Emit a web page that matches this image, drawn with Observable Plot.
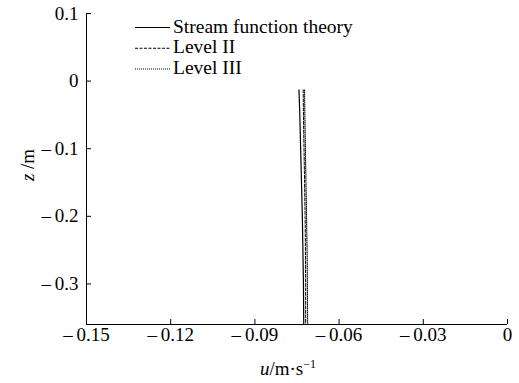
<!DOCTYPE html>
<html>
<head>
<meta charset="utf-8">
<script src="https://cdn.jsdelivr.net/npm/d3@7"></script>
<script src="https://cdn.jsdelivr.net/npm/@observablehq/plot@0.6"></script>
<style>
  html, body { margin: 0; padding: 0; background: #fff; }
  #chart { position: relative; width: 519px; height: 383px; }
  #chart svg, #chart svg text { font-family: "Liberation Serif", "Times New Roman", serif !important; }
</style>
</head>
<body>
<div id="chart"></div>
<script>
// Depth levels (m) and horizontal velocity profiles (m/s)
const depths = [-0.013, -0.05, -0.1, -0.15, -0.2, -0.25, -0.3, -0.36];
const streamFunction = [-0.0743, -0.0740, -0.0737, -0.0734, -0.0731, -0.0729, -0.0727, -0.0726];
const levelII = [-0.0728, -0.0727, -0.0725, -0.0723, -0.0721, -0.0720, -0.0719, -0.0719];
const levelIII = [-0.0723, -0.0722, -0.0720, -0.0718, -0.0716, -0.0714, -0.0713, -0.0712];

const seriesNames = ["Stream function theory", "Level II", "Level III"];
const seriesValues = [streamFunction, levelII, levelIII];
const seriesDash = ["none", "3,1.5", "1,1"];

const xTicks = [-0.15, -0.12, -0.09, -0.06, -0.03, 0];
const yTicks = [0.1, 0, -0.1, -0.2, -0.3];
const xDomain = [-0.15, 0];
const yDomain = [-0.36, 0.1];

const rows = seriesNames.flatMap((name, i) =>
  depths.map((z, j) => ({series: name, u: seriesValues[i][j], z}))
);

const W = 519, H = 383;
const margin = {top: 13, right: 12, bottom: 59, left: 86};
const innerH = H - margin.top - margin.bottom;
const innerW = W - margin.left - margin.right;
const tickLen = 5;
const fontSize = 19;
const serif = '"Liberation Serif", "Times New Roman", serif';
const fmt = d => d === 0 ? "0" : (d < 0 ? "\u2013\u2009" : "") + String(Math.abs(d));

const chart = Plot.plot({
  width: W,
  height: H,
  marginTop: margin.top,
  marginRight: margin.right,
  marginBottom: margin.bottom,
  marginLeft: margin.left,
  style: {fontSize: fontSize + "px", fontFamily: serif, color: "#000", background: "#fff"},
  x: {domain: xDomain},
  y: {domain: yDomain},
  marks: [
    Plot.axisX(xTicks, {tickSize: 0, tickPadding: 3, tickFormat: fmt, label: null, fontSize}),
    Plot.axisY(yTicks, {tickSize: 0, tickPadding: 8, tickFormat: fmt, label: null, fontSize}),
    // inward ticks
    Plot.tickX(xTicks, {x: d => d, insetTop: innerH - tickLen, stroke: "#000"}),
    Plot.tickY(yTicks, {y: d => d, insetRight: innerW - tickLen, stroke: "#000"}),
    Plot.ruleX([xDomain[0]], {stroke: "#000"}),
    Plot.ruleY([yDomain[0]], {stroke: "#000"}),
    ...seriesNames.map((name, i) =>
      Plot.line(rows.filter(r => r.series === name), {
        x: "u", y: "z", stroke: "#000", strokeWidth: i === 0 ? 1.2 : 1,
        strokeDasharray: seriesDash[i]
      })
    )
  ]
});

const svg = d3.select(chart);

// legend
const legend = svg.append("g").attr("font-size", 19.5).attr("fill", "#000").attr("text-anchor", "start");
seriesNames.forEach((name, i) => {
  const base = 32.5 + i * 20.75;
  legend.append("line")
    .attr("x1", 135).attr("x2", 170).attr("y1", base - 5).attr("y2", base - 5)
    .attr("stroke", "#000").attr("stroke-width", 1)
    .attr("stroke-dasharray", seriesDash[i]);
  legend.append("text")
    .attr("x", 173).attr("y", base)
    .attr("text-anchor", "start")
    .text(name);
});

// axis titles
const xt = svg.append("text")
  .attr("x", 288).attr("y", 375)
  .attr("text-anchor", "middle").attr("font-size", 19);
xt.append("tspan").attr("font-style", "italic").text("u");
xt.append("tspan").text("/m\u00b7s");
xt.append("tspan").attr("font-size", 12).attr("dy", "-7").text("\u22121");

const yt = svg.append("text")
  .attr("transform", "translate(34,165) rotate(-90)")
  .attr("text-anchor", "middle").attr("font-size", 19);
yt.append("tspan").attr("font-style", "italic").text("z");
yt.append("tspan").text(" /m");

document.getElementById("chart").appendChild(chart);
</script>
</body>
</html>
